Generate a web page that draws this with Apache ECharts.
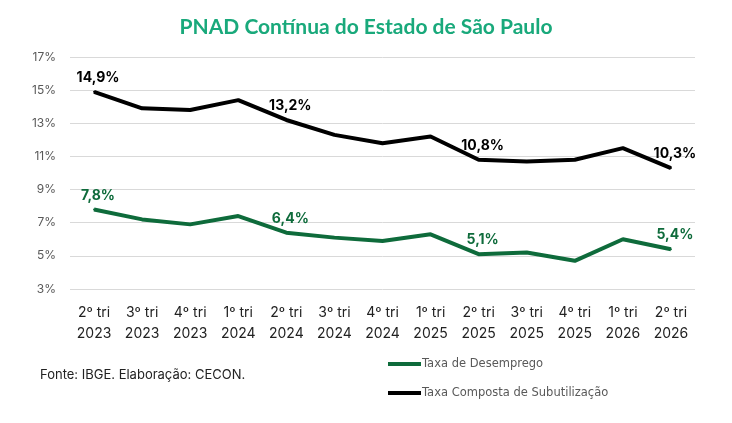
<!DOCTYPE html>
<html lang="pt-BR">
<head>
  <meta charset="utf-8">
  <title>PNAD Contínua do Estado de São Paulo</title>
  <script src="https://cdn.jsdelivr.net/npm/echarts@6/dist/echarts.min.js"></script>
  <style>
    html, body { margin: 0; padding: 0; background: #fff; }
    #main { width: 732px; height: 423px; }
  </style>
</head>
<body>
  <div id="main"></div>
  <script>
    // dados
    var categorias = ['2º tri\n2023', '3º tri\n2023', '4º tri\n2023', '1º tri\n2024', '2º tri\n2024', '3º tri\n2024',
      '4º tri\n2024', '1º tri\n2025', '2º tri\n2025', '3º tri\n2025', '4º tri\n2025', '1º tri\n2026', '2º tri\n2026'];
    var desemprego = [7.8, 7.2, 6.9, 7.4, 6.4, 6.1, 5.9, 6.3, 5.1, 5.2, 4.7, 6.0, 5.4];
    var subutilizacao = [14.9, 13.9, 13.8, 14.4, 13.2, 12.3, 11.8, 12.2, 10.8, 10.7, 10.8, 11.5, 10.3];
    var rotulados = [0, 4, 8, 12]; // pontos com rótulo

    var chart = echarts.init(document.getElementById('main'));

    function rotulo(cor) {
      return {
        show: true,
        position: 'top',
        distance: 6,
        offset: [4, 0],
        color: cor,
        fontFamily: 'Inter',
        fontWeight: 'bold',
        fontSize: 14,
        formatter: function (p) {
          if (rotulados.indexOf(p.dataIndex) < 0) return '';
          return p.value.toFixed(1).replace('.', ',') + '%';
        }
      };
    }

    var option = {
      animation: false,
      title: {
        text: 'PNAD Contínua do Estado de São Paulo',
        left: 'center',
        top: 12,
        textStyle: { color: '#19a97b', fontFamily: 'Lato', fontWeight: 'bold', fontSize: 21 }
      },
      legend: {
        orient: 'vertical',
        left: 383,
        top: 353,
        itemGap: 17,
        itemWidth: 33,
        itemHeight: 4,
        icon: 'rect',
        textStyle: { color: '#595959', fontFamily: 'DejaVu Sans', fontSize: 11.5, padding: [0, 0, 0, -4] },
        data: ['Taxa de Desemprego', 'Taxa Composta de Subutilização']
      },
      graphic: [{
        type: 'text',
        left: 40,
        top: 369,
        style: { text: 'Fonte: IBGE. Elaboração: CECON.', fill: '#222', font: '13px Inter' }
      }],
      grid: { left: 70, right: 37, top: 57, bottom: 134 },
      xAxis: {
        type: 'category',
        data: categorias,
        axisLine: { show: false },
        axisTick: { show: false },
        axisLabel: { color: '#222', fontFamily: 'Inter', fontSize: 14, lineHeight: 21, margin: 13 }
      },
      yAxis: {
        type: 'value',
        min: 3,
        max: 17,
        interval: 2,
        axisLine: { show: false },
        axisTick: { show: false },
        splitLine: { lineStyle: { color: '#d9d9d9', width: 1 } },
        axisLabel: { color: '#595959', fontFamily: 'Inter', fontSize: 12, margin: 14, formatter: '{value}%' }
      },
      series: [{
        name: 'Taxa de Desemprego',
        type: 'line',
        data: desemprego,
        symbol: 'circle',
        symbolSize: 2,
        color: '#0e6b3b',
        lineStyle: { width: 4, color: '#0e6b3b' },
        label: rotulo('#0e6b3b')
      }, {
        name: 'Taxa Composta de Subutilização',
        type: 'line',
        data: subutilizacao,
        symbol: 'circle',
        symbolSize: 2,
        color: '#000',
        lineStyle: { width: 4, color: '#000' },
        label: rotulo('#000')
      }]
    };

    chart.setOption(option);
  </script>
</body>
</html>
